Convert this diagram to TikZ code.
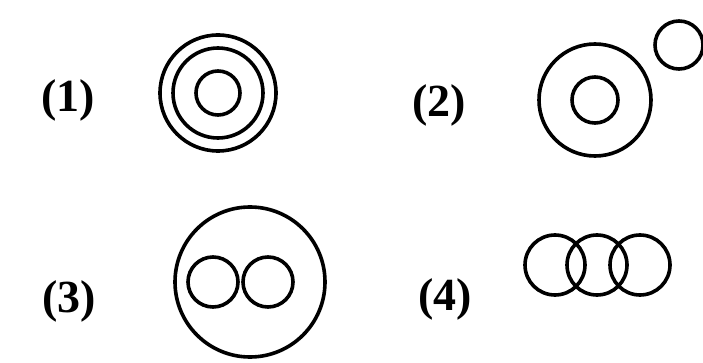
\documentclass[tikz,border=0pt]{standalone}
\usepackage{fontspec}
\setmainfont{Liberation Serif}
\usetikzlibrary{positioning}
\tikzset{
  ring/.style={
    circle, draw=black, line width=3.6pt,
    inner sep=0pt, minimum size=#1
  },
  optlabel/.style={
    inner sep=0pt, font=\fontsize{46}{46}\selectfont\bfseries
  },
}
\begin{document}
\begin{tikzpicture}[x=1pt,y=-1pt]
  \useasboundingbox (0,0) rectangle (703,363);
  % option 1
  \node[optlabel] (l1) at (68,100) {(1)};
  \node[ring=116pt] (a1) at (218,93) {};
  \node[ring=90pt]  (a2) at (218,93) {};
  \node[ring=44pt]  (a3) at (218,93) {};
  % option 2
  \node[optlabel] (l2) at (439,105) {(2)};
  \node[ring=112pt] (b1) at (595,100) {};
  \node[ring=46pt]  (b2) at (595,100) {};
  \node[ring=48pt]  (b3) at (679,45) {};
  % option 3
  \node[optlabel] (l3) at (69,301) {(3)};
  \node[ring=150pt] (c1) at (250,282) {};
  \node[ring=50pt]  (c2) at (213,282) {};
  \node[ring=50pt]  (c3) at (268,282) {};
  % option 4
  \node[optlabel] (l4) at (445,299) {(4)};
  \node[ring=60pt] (d1) at (555,265) {};
  \node[ring=60pt] (d2) at (597,265) {};
  \node[ring=60pt] (d3) at (640,265) {};
\end{tikzpicture}
\end{document}
